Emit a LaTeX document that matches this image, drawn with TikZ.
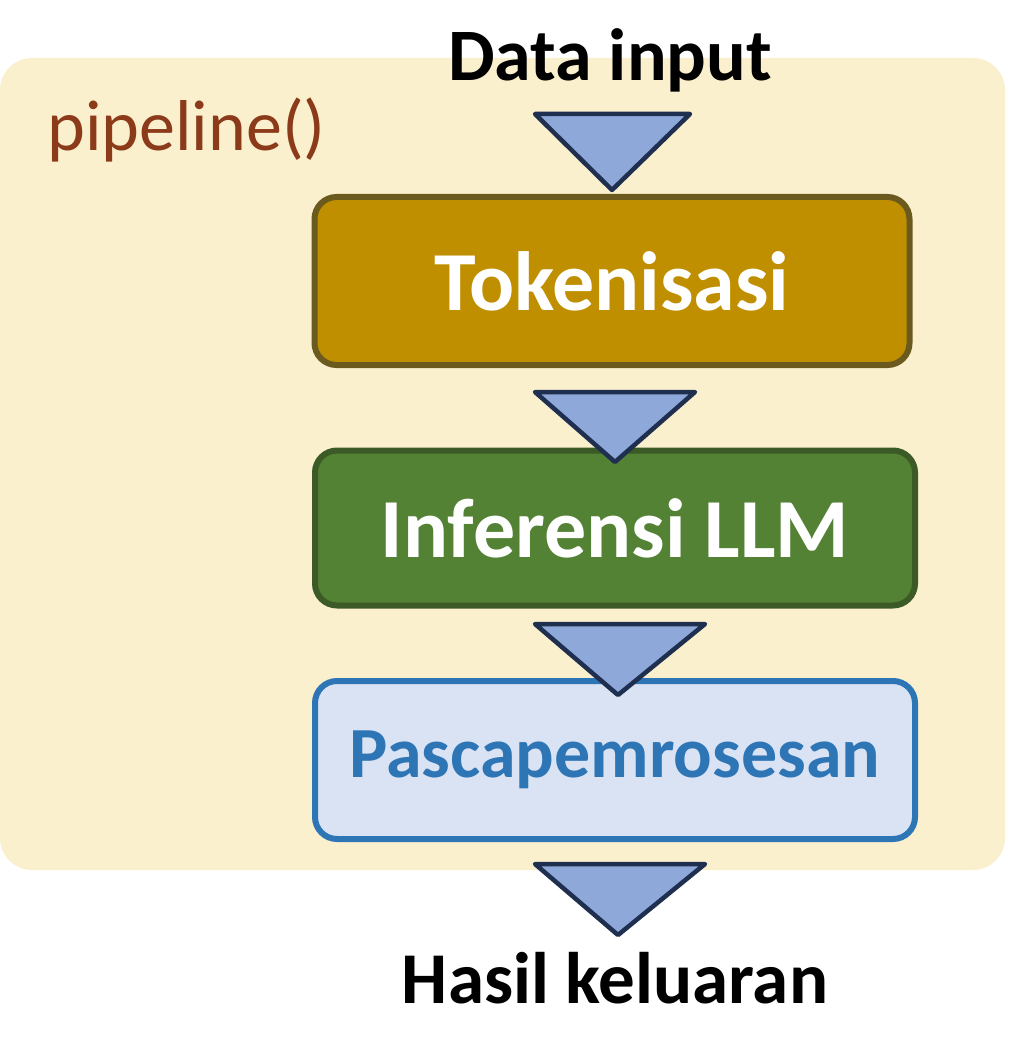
\documentclass[tikz,border=0pt]{standalone}
\usepackage{fontspec}
\setmainfont{Carlito}
\begin{document}
\begin{tikzpicture}[x=1pt,y=-1pt,
 tri/.style={fill=triblue,draw=trinavy,line width=4.5pt,line join=round},
 box/.style={rounded corners=22pt,line width=6pt},
 lbl/.style={font=\fontsize{84}{90}\selectfont\bfseries}]
\definecolor{cream}{HTML}{FBF0CE}
\definecolor{triblue}{HTML}{8FA8DA}
\definecolor{trinavy}{HTML}{1F2F4F}
\definecolor{gold}{HTML}{BF8F00}
\definecolor{goldb}{HTML}{6B5A1E}
\definecolor{grn}{HTML}{548235}
\definecolor{grnb}{HTML}{3B5A25}
\definecolor{lblue}{HTML}{DAE3F3}
\definecolor{mblue}{HTML}{2E75B6}
\definecolor{brn}{HTML}{8B3A1A}
\useasboundingbox (0,0) rectangle (1008,1056);
\fill[white] (0,0) rectangle (1008,1056);
\fill[cream,rounded corners=32pt] (0,58) rectangle (1005,870);
\node[anchor=west,text=brn,font=\fontsize{72}{78}\selectfont] (pl) at (44,130) {pipeline()};
\node[font=\fontsize{74}{80}\selectfont\bfseries] (in) at (610,60) {Data input};
\node[box,fill=gold,draw=goldb,minimum width=595pt,minimum height=168pt,text=white,lbl] (t) at (612,281) {Tokenisasi};
\node[box,fill=grn,draw=grnb,minimum width=600pt,minimum height=155pt,text=white,lbl] (i) at (615,528) {Inferensi LLM};
\node[box,fill=lblue,draw=mblue,minimum width=600pt,minimum height=158pt,text=mblue,font=\fontsize{72}{78}\selectfont\bfseries] (p) at (615,760) {Pascapemrosesan};
\draw[tri] (535,114) -- (690,114) -- (612,190) -- cycle;
\draw[tri] (535,392) -- (695,392) -- (615,462) -- cycle;
\draw[tri] (535,624) -- (705,624) -- (618,695) -- cycle;
\draw[tri] (535,864) -- (705,864) -- (618,935) -- cycle;
\node[font=\fontsize{73}{80}\selectfont\bfseries] (out) at (615,978) {Hasil keluaran};
\end{tikzpicture}
\end{document}
